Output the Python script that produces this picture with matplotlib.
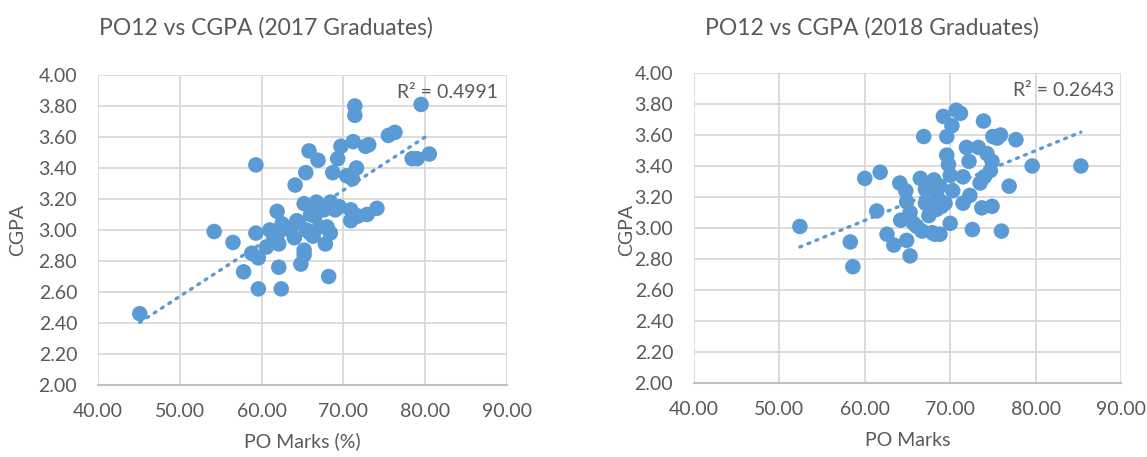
import numpy as np
import matplotlib
matplotlib.use("Agg")
import matplotlib.pyplot as plt

plt.rcParams['font.family'] = ['Lato', 'DejaVu Sans']

# 2017 graduates: PO12 marks (%) and CGPA
po_2017 = [45.1, 54.2, 56.5, 57.8, 58.8, 59.3, 59.3, 59.6, 59.6, 60.6,
           61.0, 61.5, 61.9, 62.0, 62.1, 62.1, 62.4, 62.5, 62.9, 63.5,
           64.0, 64.1, 64.3, 64.5, 64.8, 65.2, 65.2, 65.2, 65.4, 65.5,
           65.8, 65.9, 66.0, 66.3, 66.5, 66.7, 66.9, 67.0, 67.1, 67.6,
           67.8, 68.0, 68.2, 68.4, 68.4, 68.7, 69.0, 69.3, 69.5, 69.7,
           70.4, 70.9, 70.9, 71.1, 71.2, 71.4, 71.4, 71.6, 71.8, 72.7,
           72.9, 73.1, 74.1, 75.5, 76.3, 78.4, 79.0, 79.5, 80.5]
cgpa_2017 = [2.46, 2.99, 2.92, 2.73, 2.85, 3.42, 2.98, 2.82, 2.62, 2.89,
             3.00, 2.95, 3.12, 2.98, 2.76, 2.91, 2.62, 3.04, 3.02, 3.00,
             2.95, 3.29, 3.06, 3.05, 2.78, 2.87, 2.84, 3.17, 3.37, 3.00,
             3.51, 2.98, 3.10, 2.96, 3.09, 3.18, 3.45, 3.15, 3.02, 3.13,
             2.91, 3.02, 2.70, 2.98, 3.18, 3.37, 3.13, 3.46, 3.15, 3.54,
             3.35, 3.13, 3.06, 3.33, 3.57, 3.80, 3.74, 3.40, 3.09, 3.54,
             3.10, 3.55, 3.14, 3.61, 3.63, 3.46, 3.46, 3.81, 3.49]

# 2018 graduates
po_2018 = [52.4, 58.3, 58.6, 60.0, 61.4, 61.8, 62.6, 63.4, 64.1, 64.2,
           64.8, 64.9, 64.9, 65.3, 65.3, 65.7, 66.1, 66.5, 66.7, 66.9,
           67.1, 67.1, 67.5, 67.9, 68.1, 68.2, 68.4, 68.5, 68.8, 68.8,
           69.0, 69.2, 69.4, 69.6, 69.6, 69.8, 70.0, 70.0, 70.2, 70.3,
           70.7, 71.2, 71.5, 71.5, 71.9, 72.2, 72.3, 72.6, 73.3, 73.5,
           73.7, 73.9, 74.0, 74.3, 74.7, 74.9, 74.9, 75.0, 75.5, 75.9,
           76.0, 76.9, 77.7, 79.6, 85.3]
cgpa_2018 = [3.01, 2.91, 2.75, 3.32, 3.11, 3.36, 2.96, 2.89, 3.29, 3.05,
             3.24, 3.17, 2.92, 2.82, 3.10, 3.03, 3.01, 3.32, 2.98, 3.59,
             3.16, 3.25, 3.08, 2.97, 3.31, 2.96, 3.12, 3.20, 2.96, 3.27,
             3.14, 3.72, 3.16, 3.47, 3.59, 3.41, 3.34, 3.03, 3.66, 3.24,
             3.76, 3.74, 3.33, 3.16, 3.52, 3.43, 3.21, 2.99, 3.52, 3.29,
             3.13, 3.69, 3.33, 3.48, 3.37, 3.14, 3.43, 3.59, 3.58, 3.60,
             2.98, 3.27, 3.57, 3.40, 3.40]

r2_labels = ["R² = 0.4991", "R² = 0.2643"]
titles = ["PO12 vs CGPA (2017 Graduates)", "PO12 vs CGPA (2018 Graduates)"]
xlabels = ["PO Marks (%)", "PO Marks"]

blue = '#5B9BD5'
grey_text = '#595959'
grid_col = '#D9D9D9'

W, H = 1147, 457
fig = plt.figure(figsize=(W / 100, H / 100), dpi=100)

# axes boxes in pixels: left, top, right, bottom
boxes = [(98, 75, 507, 385), (694, 73, 1121, 383)]
title_x = [266, 872]
ylabel_x = [18, 627]
r2_x = [0.978, 0.984]

series = [(po_2017, cgpa_2017), (po_2018, cgpa_2018)]

for i, (xs, ys) in enumerate(series):
    l, t, r, b = boxes[i]
    ax = fig.add_axes([l / W, 1 - b / H, (r - l) / W, (b - t) / H])
    x = np.array(xs)
    y = np.array(ys)

    ax.scatter(x, y, s=125, color=blue, edgecolors='none', zorder=3)

    # linear trendline
    k, c = np.polyfit(x, y, 1)
    xx = np.array([x.min(), x.max()])
    ax.plot(xx, k * xx + c, color=blue, lw=2.4, linestyle=(0, (0.6, 2.0)),
            dash_capstyle='round', zorder=2)

    ax.set_xlim(40, 90)
    ax.set_ylim(2.0, 4.0)
    ax.set_xticks(np.arange(40, 91, 10))
    ax.set_yticks(np.arange(2.0, 4.01, 0.2))
    ax.xaxis.set_major_formatter(matplotlib.ticker.FormatStrFormatter('%.2f'))
    ax.yaxis.set_major_formatter(matplotlib.ticker.FormatStrFormatter('%.2f'))
    ax.grid(True, color=grid_col, lw=1.3, zorder=0)
    ax.set_axisbelow(True)
    for s in ['top', 'right', 'left']:
        ax.spines[s].set_visible(False)
    ax.spines['bottom'].set_color('#BFBFBF')
    ax.spines['bottom'].set_linewidth(1.5)
    ax.tick_params(length=0, labelsize=14, labelcolor=grey_text)
    ax.tick_params(axis='x', pad=13)
    ax.tick_params(axis='y', pad=15)

    ax.text(r2_x[i], 0.942, r2_labels[i], transform=ax.transAxes,
            ha='right', va='center', fontsize=14, color=grey_text)

    fig.text(title_x[i] / W, 1 - 28 / H, titles[i], ha='center', va='center',
             fontsize=16.5, color=grey_text)
    fig.text(((l + r) / 2) / W, 1 - 441 / H, xlabels[i], ha='center', va='center',
             fontsize=14, color=grey_text)
    fig.text(ylabel_x[i] / W, 1 - 230 / H, "CGPA", ha='center', va='center',
             rotation=90, fontsize=14, color=grey_text)

fig.savefig("out.png", dpi=100)
